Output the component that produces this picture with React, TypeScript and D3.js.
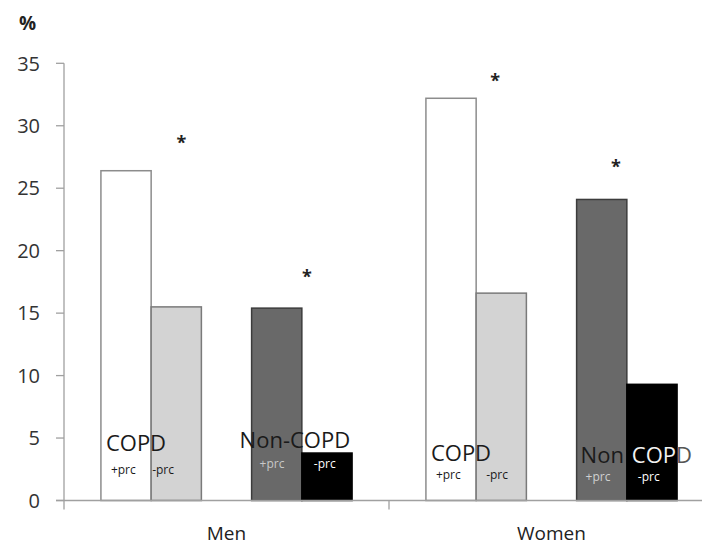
import React from "react";
import * as d3 from "d3";

const groups = ["Men", "Women"];
const slots = ["COPD+", "COPD-", "gap", "Non+", "Non-"];
const barSeries = ["COPD+", "COPD-", "Non+", "Non-"];
const menValues = [26.4, 15.5, 15.4, 3.8];
const womenValues = [32.2, 16.6, 24.1, 9.3];
const yTicks = [0, 5, 10, 15, 20, 25, 30, 35];

// asterisks: group, slot, fraction across slot, data-y of star centre
const stars = [
  { group: "Men", slot: "COPD-", frac: 0.6, value: 28.9 },
  { group: "Men", slot: "Non-", frac: 0.1, value: 18.2 },
  { group: "Women", slot: "COPD-", frac: 0.38, value: 33.9 },
  { group: "Women", slot: "Non+", frac: 0.78, value: 27.0 },
];

// in-bar labels: group, slot, offset in px from slot start, data-y baseline, kind
const labels = [
  { group: "Men", slot: "COPD+", dx: 5, value: 3.95, text: "COPD", kind: "big", color: "#1a1a1a" },
  { group: "Men", slot: "COPD+", dx: 10, value: 2.1, text: "+prc", kind: "small", color: "#1a1a1a" },
  { group: "Men", slot: "COPD-", dx: 1, value: 2.1, text: "-prc", kind: "small", color: "#1a1a1a" },
  { group: "Men", slot: "Non+", dx: -12, value: 4.2, text: "Non-COPD", kind: "big", color: "#1a1a1a" },
  { group: "Men", slot: "Non+", dx: 8, value: 2.6, text: "+prc", kind: "small", color: "#c8c8c8" },
  { group: "Men", slot: "Non-", dx: 12, value: 2.6, text: "-prc", kind: "small", color: "#ffffff" },
  { group: "Women", slot: "COPD+", dx: 5, value: 3.2, text: "COPD", kind: "big", color: "#1a1a1a" },
  { group: "Women", slot: "COPD+", dx: 10, value: 1.7, text: "+prc", kind: "small", color: "#1a1a1a" },
  { group: "Women", slot: "COPD-", dx: 10, value: 1.7, text: "-prc", kind: "small", color: "#1a1a1a" },
  { group: "Women", slot: "Non+", dx: 4, value: 3.0, text: "Non", kind: "big", color: "#1a1a1a" },
  { group: "Women", slot: "Non+", dx: 9, value: 1.6, text: "+prc", kind: "small", color: "#d0d0d0" },
  { group: "Women", slot: "Non-", dx: 11, value: 1.6, text: "-prc", kind: "small", color: "#ffffff" },
];
// label that straddles the black bar edge: white inside the bar, grey outside
const splitLabel = { group: "Women", slot: "Non-", dx: 5, value: 3.0, text: "COPD" };

const fills: Record<string, string> = {
  "COPD+": "#ffffff",
  "COPD-": "#d3d3d3",
  "Non+": "#696969",
  "Non-": "#000000",
};
const strokes: Record<string, string> = {
  "COPD+": "#8c8c8c",
  "COPD-": "#7a7a7a",
  "Non+": "#3c3c3c",
  "Non-": "#000000",
};

const FONT = "'Open Sans', 'Liberation Sans', sans-serif";

export default function App() {
  const W = 702;
  const H = 546;
  const x0 = 64;
  const y = d3.scaleLinear().domain([0, 35]).range([500.5, 63.3]);
  const gx = d3.scaleBand<string>().domain(groups).range([x0, x0 + 650]).paddingInner(0).paddingOuter(0);
  const sx = d3.scaleBand<string>().domain(slots).range([0, gx.bandwidth()]).paddingInner(0).paddingOuter(0.735);

  const data = [
    ...barSeries.map((s, i) => ({ group: "Men", series: s, value: menValues[i] })),
    ...barSeries.map((s, i) => ({ group: "Women", series: s, value: womenValues[i] })),
  ];
  const slotX = (g: string, s: string) => (gx(g) as number) + (sx(s) as number);
  const base = y(0);

  const splitBarValue = womenValues[barSeries.indexOf(splitLabel.slot)];
  const splitBarX = slotX(splitLabel.group, splitLabel.slot);
  const splitBarRight = splitBarX + sx.bandwidth() + 0.75;

  return (
    <svg width={W} height={H} style={{ position: "absolute", left: 0, top: 0, background: "#fff" }}>
      <defs>
        <clipPath id="inBar">
          <rect x={splitBarX} y={y(splitBarValue)} width={splitBarRight - splitBarX} height={base - y(splitBarValue)} />
        </clipPath>
        <clipPath id="outBar">
          <rect x={splitBarRight} y={0} width={W - splitBarRight} height={H} />
        </clipPath>
      </defs>
      <rect width={W} height={H} fill="#fff" />
      {/* bars */}
      {data.map((d, i) => (
        <rect
          key={i}
          x={slotX(d.group, d.series)}
          y={y(d.value)}
          width={sx.bandwidth()}
          height={base - y(d.value)}
          fill={fills[d.series]}
          stroke={strokes[d.series]}
          strokeWidth={1.5}
        />
      ))}
      {/* y axis */}
      <line x1={x0} x2={x0} y1={y(35)} y2={base + 9} stroke="#a0a0a0" strokeWidth={1.3} />
      {yTicks.map((t) => (
        <g key={t}>
          <line x1={x0 - 8} x2={x0} y1={y(t)} y2={y(t)} stroke="#a0a0a0" strokeWidth={1.3} />
          <text
            x={40}
            y={y(t)}
            dy="0.36em"
            textAnchor="end"
            fontFamily={FONT}
            fontSize={20}
            fill="#333"
          >
            {t}
          </text>
        </g>
      ))}
      {/* x axis */}
      <line x1={x0 - 8} x2={W} y1={base} y2={base} stroke="#a0a0a0" strokeWidth={1.3} />
      {groups.map((g, i) => (
        <line key={"t" + i} x1={(gx(g) as number) + gx.bandwidth()} x2={(gx(g) as number) + gx.bandwidth()} y1={base} y2={base + 9} stroke="#a0a0a0" strokeWidth={1.3} />
      ))}
      {groups.map((g) => (
        <text
          key={g}
          x={(gx(g) as number) + gx.bandwidth() / 2}
          y={540}
          textAnchor="middle"
          fontFamily={FONT}
          fontSize={19}
          fill="#222"
        >
          {g}
        </text>
      ))}
      <text x={19} y={30} fontFamily={FONT} fontSize={19} fontWeight="bold" fill="#222">
        %
      </text>
      {/* stars */}
      {stars.map((s, i) => (
        <text
          key={"s" + i}
          x={slotX(s.group, s.slot) + sx.bandwidth() * s.frac}
          y={y(s.value) + 10}
          textAnchor="middle"
          fontFamily={FONT}
          fontSize={18}
          fontWeight="bold"
          fill="#222"
        >
          *
        </text>
      ))}
      {/* labels */}
      {labels.map((l, i) => (
        <text
          key={"l" + i}
          x={slotX(l.group, l.slot) + l.dx}
          y={y(l.value)}
          fontFamily={FONT}
          fontSize={l.kind === "big" ? 22 : 12}
          fill={l.color}
        >
          {l.text}
        </text>
      ))}
      <text
        x={splitBarX + splitLabel.dx}
        y={y(splitLabel.value)}
        fontFamily={FONT}
        fontSize={22}
        fill="#f2f2f2"
        clipPath="url(#inBar)"
      >
        {splitLabel.text}
      </text>
      <text
        x={splitBarX + splitLabel.dx}
        y={y(splitLabel.value)}
        fontFamily={FONT}
        fontSize={22}
        fill="#555"
        clipPath="url(#outBar)"
      >
        {splitLabel.text}
      </text>
    </svg>
  );
}
